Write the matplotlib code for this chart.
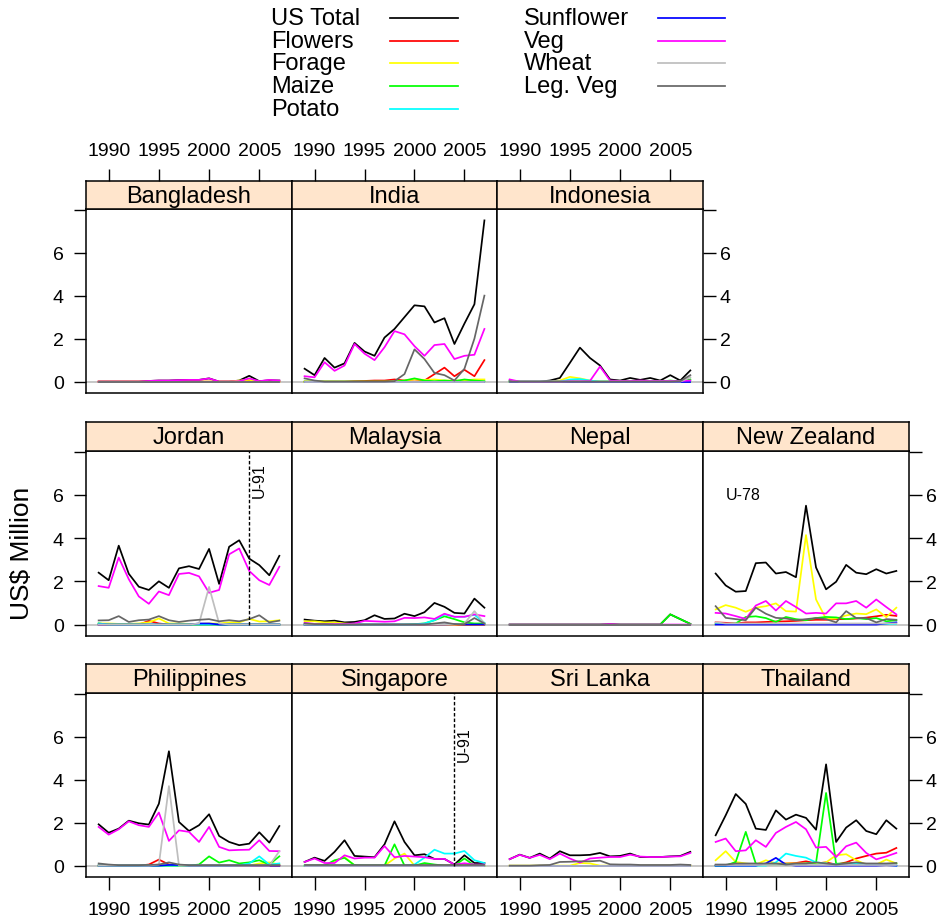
import matplotlib
matplotlib.use('Agg')
import matplotlib.pyplot as plt

plt.rcParams['font.family'] = ['Liberation Sans', 'DejaVu Sans']

W, H = 943, 920

years = [1989, 1990, 1991, 1992, 1993, 1994, 1995, 1996, 1997, 1998,
         1999, 2000, 2001, 2002, 2003, 2004, 2005, 2006, 2007]

series_names = ['US Total', 'Flowers', 'Forage', 'Maize', 'Potato',
                'Sunflower', 'Veg', 'Wheat', 'Leg. Veg']
series_colors = ['#000000', '#FF0000', '#FFFF00', '#00FF00', '#00FFFF',
                 '#0000FF', '#FF00FF', '#BEBEBE', '#666666']

z = [0] * 19

# rows: US Total, Flowers, Forage, Maize, Potato, Sunflower, Veg, Wheat, Leg. Veg
bangladesh = [
    [0, 0, 0, 0, 0, 0.03, 0.05, 0.05, 0.07, 0.08, 0.08, 0.15, 0, 0, 0.05, 0.27, 0.02, 0.06, 0.05],
    [0, 0, 0, 0, 0, 0, 0, 0, 0, 0, 0, 0, 0, 0, 0, 0.04, 0, 0, 0],
    [0, 0, 0, 0, 0, 0, 0, 0, 0, 0, 0, 0, 0, 0, 0.05, 0.08, 0, 0, 0],
    z, z, z,
    [0, 0, 0, 0, 0, 0.03, 0.05, 0.05, 0.07, 0.08, 0.08, 0.15, 0, 0, 0.02, 0.15, 0.02, 0.08, 0.05],
    z, z,
]
india = [
    [0.6, 0.3, 1.1, 0.65, 0.85, 1.8, 1.4, 1.2, 2.05, 2.45, 3.0, 3.55, 3.5, 2.75, 2.95, 1.75, 2.7, 3.6, 7.5],
    [0, 0, 0, 0, 0, 0.02, 0.03, 0.05, 0.05, 0.1, 0.05, 0.1, 0.05, 0.35, 0.65, 0.25, 0.55, 0.25, 1.0],
    [0, 0, 0, 0, 0, 0, 0, 0, 0, 0, 0.05, 0.1, 0.08, 0.1, 0.05, 0.05, 0.05, 0.1, 0.1],
    [0, 0, 0, 0, 0, 0, 0, 0, 0, 0, 0.05, 0.15, 0.05, 0.02, 0.05, 0.02, 0.1, 0.05, 0.02],
    z, z,
    [0.25, 0.2, 0.9, 0.5, 0.75, 1.75, 1.3, 1.0, 1.6, 2.35, 2.2, 1.65, 1.2, 1.7, 1.75, 1.05, 1.2, 1.25, 2.45],
    z,
    [0.15, 0.05, 0, 0, 0, 0, 0, 0, 0, 0.02, 0.35, 1.5, 1.05, 0.4, 0.3, 0.05, 0.6, 2.0, 4.0],
]
indonesia = [
    [0.05, 0, 0, 0, 0.05, 0.17, 0.87, 1.58, 1.1, 0.75, 0.1, 0.05, 0.17, 0.08, 0.17, 0.05, 0.3, 0.05, 0.52],
    z,
    [0, 0, 0, 0, 0, 0.05, 0.22, 0.15, 0.05, 0, 0, 0.03, 0, 0, 0, 0, 0, 0, 0],
    [0, 0, 0, 0, 0, 0, 0, 0, 0, 0, 0, 0, 0, 0, 0, 0, 0.05, 0, 0.1],
    [0, 0, 0, 0, 0, 0, 0.1, 0.12, 0.05, 0, 0, 0, 0, 0, 0, 0, 0, 0, 0],
    z,
    [0.1, 0, 0, 0, 0, 0, 0.02, 0.02, 0.03, 0.7, 0.05, 0.03, 0.03, 0.05, 0.03, 0.03, 0.03, 0.03, 0.05],
    [0, 0, 0, 0, 0, 0, 0, 0, 0, 0, 0, 0, 0, 0, 0, 0, 0, 0, 0.2],
    [0, 0, 0, 0, 0, 0, 0, 0, 0, 0, 0, 0, 0, 0, 0, 0, 0, 0.02, 0.3],
]
jordan = [
    [2.4, 2.05, 3.65, 2.35, 1.75, 1.6, 2.0, 1.7, 2.6, 2.7, 2.57, 3.5, 1.88, 3.6, 3.9, 3.05, 2.75, 2.28, 3.18],
    [0, 0, 0, 0, 0, 0.17, 0.05, 0, 0, 0, 0, 0, 0, 0, 0, 0, 0, 0, 0],
    [0.05, 0.05, 0.03, 0.03, 0.05, 0.1, 0.28, 0.05, 0.05, 0.03, 0.03, 0.05, 0.05, 0.1, 0.1, 0.26, 0.14, 0.15, 0.2],
    [0.05, 0, 0, 0, 0, 0, 0, 0, 0, 0, 0, 0, 0, 0, 0, 0, 0, 0, 0],
    [0.05, 0, 0, 0, 0, 0, 0, 0, 0, 0, 0, 0, 0, 0, 0, 0, 0, 0, 0],
    [0, 0, 0, 0, 0, 0, 0, 0, 0, 0, 0.05, 0.05, 0, 0, 0, 0, 0, 0, 0],
    [1.78, 1.7, 3.1, 2.1, 1.3, 0.96, 1.53, 1.36, 2.34, 2.39, 2.23, 1.47, 1.6, 3.25, 3.52, 2.48, 2.05, 1.83, 2.67],
    [0, 0, 0, 0, 0, 0, 0, 0, 0, 0, 0.05, 1.74, 0.05, 0, 0, 0, 0, 0, 0],
    [0.19, 0.2, 0.39, 0.12, 0.2, 0.23, 0.39, 0.2, 0.12, 0.18, 0.22, 0.25, 0.15, 0.2, 0.15, 0.25, 0.43, 0.1, 0.18],
]
malaysia = [
    [0.23, 0.18, 0.15, 0.18, 0.1, 0.12, 0.2, 0.43, 0.26, 0.28, 0.5, 0.39, 0.57, 1.0, 0.82, 0.54, 0.51, 1.2, 0.78],
    z,
    [0.15, 0.15, 0.1, 0.1, 0.05, 0.02, 0, 0, 0, 0, 0, 0, 0, 0, 0, 0, 0, 0, 0],
    [0, 0, 0, 0, 0, 0, 0, 0, 0, 0, 0, 0.02, 0.05, 0.2, 0.38, 0.25, 0.1, 0.05, 0.05],
    [0, 0, 0, 0, 0, 0, 0, 0, 0, 0, 0, 0, 0.05, 0.2, 0.47, 0.36, 0.36, 0.45, 0.08],
    [0, 0, 0, 0, 0, 0, 0, 0, 0, 0, 0, 0, 0, 0, 0, 0.02, 0, 0, 0],
    [0.08, 0.03, 0.03, 0.03, 0.03, 0.05, 0.17, 0.15, 0.13, 0.15, 0.31, 0.3, 0.33, 0.26, 0.5, 0.36, 0.36, 0.47, 0.39],
    [0, 0, 0, 0, 0, 0, 0, 0, 0, 0, 0, 0, 0, 0, 0, 0, 0.05, 0.62, 0.05],
    [0.05, 0.02, 0.02, 0, 0, 0, 0, 0, 0, 0, 0, 0, 0, 0.05, 0.1, 0.02, 0.02, 0.3, 0.05],
]
nepal = [
    [0, 0, 0, 0, 0, 0, 0, 0, 0, 0, 0.02, 0, 0, 0, 0, 0, 0.47, 0.25, 0.03],
    z, z,
    [0, 0, 0, 0, 0, 0, 0, 0, 0, 0, 0, 0, 0, 0, 0, 0, 0.47, 0.25, 0.03],
    z, z,
    [0, 0, 0, 0, 0, 0, 0, 0, 0, 0, 0.02, 0, 0, 0, 0, 0, 0, 0, 0],
    z, z,
]
new_zealand = [
    [2.36, 1.81, 1.52, 1.55, 2.84, 2.87, 2.36, 2.43, 2.19, 5.5, 2.64, 1.63, 1.98, 2.76, 2.4, 2.33, 2.56, 2.36, 2.48],
    [0.1, 0.08, 0.05, 0.1, 0.1, 0.12, 0.14, 0.15, 0.17, 0.2, 0.22, 0.22, 0.25, 0.25, 0.28, 0.32, 0.38, 0.45, 0.4],
    [0.7, 0.9, 0.78, 0.59, 0.78, 0.85, 0.98, 0.62, 0.6, 4.14, 1.16, 0.26, 0.28, 0.42, 0.51, 0.48, 0.7, 0.34, 0.78],
    [0.02, 0.02, 0.05, 0.35, 0.38, 0.3, 0.12, 0.35, 0.25, 0.2, 0.3, 0.35, 0.33, 0.25, 0.3, 0.25, 0.3, 0.15, 0.2],
    [0.02, 0.02, 0.02, 0.02, 0.02, 0.02, 0.02, 0.02, 0.02, 0.02, 0.02, 0.02, 0.02, 0.02, 0.02, 0.02, 0.02, 0.02, 0.02],
    [0, 0, 0, 0, 0, 0, 0, 0, 0, 0, 0, 0, 0, 0, 0, 0, 0, 0.05, 0.1],
    [0.54, 0.51, 0.39, 0.26, 0.88, 1.09, 0.65, 1.09, 0.81, 0.51, 0.54, 0.51, 0.98, 0.98, 1.09, 0.78, 1.16, 0.81, 0.47],
    [0.1, 0.05, 0.05, 0.05, 0.05, 0.05, 0.05, 0.05, 0.05, 0.05, 0.05, 0.05, 0.05, 0.05, 0.05, 0.05, 0.05, 0.05, 0.05],
    [0.85, 0.31, 0.25, 0.2, 0.78, 0.5, 0.31, 0.28, 0.2, 0.25, 0.3, 0.25, 0.1, 0.62, 0.3, 0.3, 0.1, 0.25, 0.22],
]
philippines = [
    [1.92, 1.53, 1.72, 2.09, 1.97, 1.91, 2.88, 5.32, 2.03, 1.61, 1.88, 2.39, 1.38, 1.1, 0.95, 1.02, 1.55, 1.07, 1.84],
    [0, 0, 0, 0, 0, 0.05, 0.28, 0.05, 0, 0, 0, 0, 0, 0, 0, 0, 0, 0, 0],
    [0, 0, 0, 0, 0, 0, 0, 0, 0, 0, 0, 0, 0, 0, 0, 0, 0.1, 0.15, 0.05],
    [0, 0, 0, 0, 0, 0.02, 0, 0, 0, 0, 0.05, 0.43, 0.14, 0.25, 0.1, 0.15, 0.25, 0.05, 0.43],
    [0, 0, 0, 0, 0, 0, 0, 0, 0, 0, 0, 0, 0, 0, 0.02, 0.1, 0.43, 0.05, 0.1],
    [0, 0, 0, 0, 0, 0, 0, 0.03, 0.03, 0, 0, 0, 0, 0, 0, 0, 0, 0, 0],
    [1.8, 1.44, 1.69, 2.06, 1.88, 1.8, 2.47, 1.15, 1.64, 1.57, 1.1, 1.8, 0.87, 0.71, 0.73, 0.74, 1.18, 0.68, 0.67],
    [0, 0, 0, 0, 0, 0, 0.05, 3.7, 0, 0, 0, 0, 0, 0, 0, 0, 0, 0, 0.67],
    [0.1, 0.05, 0.02, 0.02, 0.02, 0.03, 0.05, 0.15, 0.05, 0.02, 0.02, 0.02, 0.02, 0.02, 0.02, 0.02, 0.02, 0.02, 0.02],
]
singapore = [
    [0.17, 0.37, 0.22, 0.64, 1.18, 0.45, 0.42, 0.39, 0.99, 2.06, 1.1, 0.48, 0.53, 0.31, 0.31, 0.05, 0.48, 0.12, 0.12],
    z,
    [0, 0, 0, 0.2, 0.4, 0, 0, 0, 0, 0.33, 0.56, 0, 0, 0, 0, 0, 0, 0, 0],
    [0, 0, 0, 0.25, 0.36, 0.02, 0, 0, 0, 0.99, 0, 0, 0.12, 0.05, 0, 0, 0.33, 0, 0],
    [0, 0, 0, 0, 0, 0, 0, 0, 0, 0, 0, 0.05, 0.37, 0.74, 0.56, 0.56, 0.68, 0.25, 0.12],
    z,
    [0.17, 0.33, 0.12, 0.12, 0.48, 0.33, 0.37, 0.37, 0.91, 0.39, 0.45, 0.42, 0.39, 0.31, 0.31, 0.05, 0.11, 0.05, 0.05],
    z,
    [0.02, 0.02, 0.02, 0.02, 0.02, 0.02, 0.02, 0.02, 0.02, 0.02, 0.02, 0.02, 0.02, 0.02, 0.02, 0.02, 0.02, 0.02, 0.02],
]
sri_lanka = [
    [0.3, 0.51, 0.36, 0.56, 0.33, 0.67, 0.48, 0.48, 0.5, 0.59, 0.43, 0.45, 0.56, 0.4, 0.4, 0.4, 0.43, 0.45, 0.64],
    z,
    [0, 0, 0, 0, 0, 0, 0, 0.12, 0.1, 0, 0, 0, 0, 0, 0, 0, 0, 0, 0],
    z, z, z,
    [0.3, 0.5, 0.36, 0.5, 0.3, 0.56, 0.33, 0.14, 0.33, 0.37, 0.4, 0.4, 0.51, 0.42, 0.4, 0.4, 0.42, 0.43, 0.59],
    z,
    [0, 0, 0, 0.02, 0.03, 0.17, 0.18, 0.2, 0.2, 0.23, 0.06, 0.05, 0.05, 0.03, 0.03, 0.03, 0.03, 0.05, 0.03],
]
thailand = [
    [1.41, 2.34, 3.33, 2.87, 1.72, 1.66, 2.57, 2.14, 2.37, 2.22, 1.67, 4.71, 1.1, 1.77, 2.11, 1.61, 1.46, 2.11, 1.72],
    [0.02, 0.02, 0.05, 0.05, 0.05, 0.05, 0.08, 0.1, 0.12, 0.2, 0.1, 0.15, 0.05, 0.15, 0.33, 0.45, 0.56, 0.6, 0.82],
    [0.25, 0.67, 0.17, 0.1, 0.05, 0.25, 0.1, 0.1, 0.1, 0.1, 0.1, 0.15, 0.48, 0.53, 0.25, 0.05, 0.05, 0.28, 0.1],
    [0, 0, 0.17, 1.57, 0.09, 0.05, 0.05, 0.05, 0.05, 0.1, 0.14, 3.38, 0.09, 0.1, 0.1, 0.05, 0.05, 0.05, 0.1],
    [0, 0, 0, 0, 0, 0, 0.15, 0.56, 0.45, 0.37, 0.15, 0.1, 0.05, 0.05, 0.1, 0.05, 0.05, 0.05, 0],
    [0, 0, 0, 0, 0, 0.1, 0.36, 0.05, 0, 0, 0, 0, 0, 0, 0, 0, 0, 0.02, 0],
    [1.1, 1.26, 0.67, 0.71, 1.18, 0.87, 1.52, 1.8, 2.03, 1.69, 0.84, 0.87, 0.4, 0.9, 1.07, 0.59, 0.29, 0.43, 0.59],
    [0.05, 0.05, 0.05, 0.05, 0.05, 0.05, 0.05, 0.05, 0.05, 0.05, 0.05, 0.05, 0.05, 0.05, 0.05, 0.05, 0.05, 0.05, 0.05],
    [0.05, 0.05, 0.1, 0.1, 0.1, 0.1, 0.1, 0.05, 0.1, 0.1, 0.15, 0.1, 0.05, 0.1, 0.15, 0.1, 0.1, 0.1, 0.12],
]

# panel layout: (name, data, row, col)
panels = [
    ('Bangladesh', bangladesh, 0, 0), ('India', india, 0, 1), ('Indonesia', indonesia, 0, 2),
    ('Jordan', jordan, 1, 0), ('Malaysia', malaysia, 1, 1), ('Nepal', nepal, 1, 2),
    ('New Zealand', new_zealand, 1, 3),
    ('Philippines', philippines, 2, 0), ('Singapore', singapore, 2, 1),
    ('Sri Lanka', sri_lanka, 2, 2), ('Thailand', thailand, 2, 3),
]

col_x = [86, 292, 497, 703, 909]
row_strip_top = [182, 423, 665]
row_panel_top = [210, 452, 694]
row_panel_bot = [394, 637, 878]

xlim = (1987.74, 2008.26)
ylim = (-0.53, 8.03)
xt = [1990, 1995, 2000, 2005]

fig = plt.figure(figsize=(W / 100, H / 100), dpi=100)


def box(x0, y0, x1, y1):
    return [x0 / W, 1 - y1 / H, (x1 - x0) / W, (y1 - y0) / H]


tick_kw = dict(direction='out', length=9, width=1.0, labelsize=14, color='black')

for name, data, r, c in panels:
    ax = fig.add_axes(box(col_x[c], row_panel_top[r], col_x[c + 1], row_panel_bot[r]))
    ax.axhline(0, color='#BEBEBE', lw=1.2, zorder=1)
    for vals, col in zip(data, series_colors):
        ax.plot(years, vals, color=col, lw=1.25, zorder=2)
    ax.set_xlim(*xlim)
    ax.set_ylim(*ylim)
    for s in ax.spines.values():
        s.set_linewidth(1.1)
    ax.set_xticks(xt)
    ax.set_yticks([0, 2, 4, 6, 8])
    ax.set_yticklabels(['0', '2', '4', '6', ''])
    ax.tick_params(axis='x', bottom=(r == 2), labelbottom=(r == 2), top=False,
                   pad=8, **tick_kw)
    right = (r == 0 and c == 2) or c == 3
    ax.tick_params(axis='y', left=(c == 0), labelleft=(c == 0),
                   right=right, labelright=right, **tick_kw)
    ax.tick_params(axis='y', which='major', pad=7 if c == 0 else 3)

    if name in ('Jordan', 'Singapore'):
        ax.vlines(2004, 0, ylim[1], colors='black', linestyles=(0, (2.5, 1.5)), lw=1.0, zorder=3)
        ytop = 7.5 if name == 'Jordan' else 6.5
        ax.text(2005.0, ytop, 'U-91', rotation=90, ha='center', va='top', fontsize=11.5)
    if name == 'New Zealand':
        ax.text(1991.7, 6.0, 'U-78', ha='center', va='center', fontsize=11.5)

    sax = fig.add_axes(box(col_x[c], row_strip_top[r], col_x[c + 1], row_panel_top[r]))
    sax.set_facecolor('#FFE5CC')
    sax.set_xlim(*xlim)
    sax.set_ylim(0, 1)
    for s in sax.spines.values():
        s.set_linewidth(1.1)
    sax.set_yticks([])
    sax.set_xticks(xt)
    top = (r == 0)
    sax.tick_params(axis='x', bottom=False, labelbottom=False, top=top, labeltop=top,
                    pad=7, **tick_kw)
    sax.text(0.5, 0.47, name, transform=sax.transAxes, ha='center', va='center', fontsize=17)

fig.text(22 / W, 1 - 553 / H, 'US$ Million', rotation=90, ha='center', va='center', fontsize=19)

# legend drawn in pixel space
lax = fig.add_axes([0, 0, 1, 1])
lax.set_xlim(0, W)
lax.set_ylim(H, 0)
lax.axis('off')
leg_rows = [19, 42, 64, 87, 110]
for i, (lab, col) in enumerate(zip(series_names, series_colors)):
    if i < 5:
        tx, k0, k1, yy = 271, 390, 458, leg_rows[i]
    else:
        tx, k0, k1, yy = 524, 658, 725, leg_rows[i - 5]
    lax.text(tx, yy, lab, ha='left', va='center', fontsize=17)
    lax.plot([k0, k1], [yy, yy], color=col, lw=1.25)

fig.savefig('out.png', dpi=100)
